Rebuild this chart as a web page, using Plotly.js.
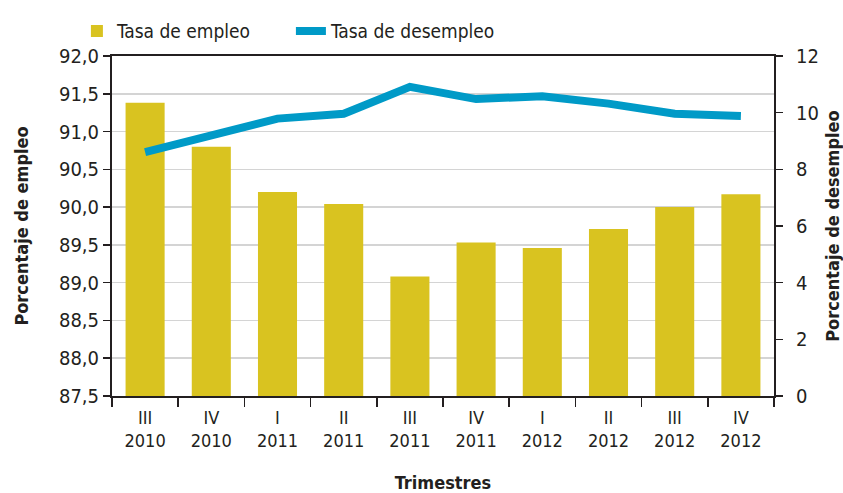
<!DOCTYPE html>
<html>
<head>
<meta charset="utf-8">
<script src="https://cdn.plot.ly/plotly-3.0.1.min.js"></script>
<style>html,body{margin:0;padding:0;background:#fff;}#chart{width:843px;height:493px;}</style>
</head>
<body>
<div id="chart"></div>
<script>
const quarters = ["III", "IV", "I", "II", "III", "IV", "I", "II", "III", "IV"];
const years = ["2010", "2010", "2011", "2011", "2011", "2011", "2012", "2012", "2012", "2012"];
const tasaEmpleo = [91.38, 90.80, 90.20, 90.04, 89.08, 89.53, 89.46, 89.71, 90.00, 90.17];
const tasaDesempleo = [8.61, 9.22, 9.79, 9.96, 10.91, 10.48, 10.58, 10.32, 9.96, 9.88];

const categories = quarters.map((q, i) => q + "<br>" + years[i]);
const FONT = "'DejaVu Sans Condensed', 'Liberation Sans Narrow', 'DejaVu Sans', sans-serif";
const TXT = "#231f20";

const traces = [
  {
    type: "bar",
    name: "Tasa de empleo",
    x: categories,
    y: tasaEmpleo,
    marker: {color: "#d9c320"},
    width: 0.59,
    yaxis: "y"
  },
  {
    type: "scatter",
    mode: "lines",
    name: "Tasa de desempleo",
    x: categories,
    y: tasaDesempleo,
    line: {color: "#009ac7", width: 8},
    yaxis: "y2"
  }
];

const layout = {
  width: 843,
  height: 493,
  margin: {l: 112, r: 69, t: 54, b: 97},
  paper_bgcolor: "#ffffff",
  plot_bgcolor: "#ffffff",
  separators: ", ",
  font: {family: FONT, size: 19, color: TXT},
  showlegend: true,
  legend: {
    orientation: "h",
    x: -0.053, xanchor: "left",
    y: 1.073, yanchor: "middle",
    font: {family: FONT, size: 19, color: TXT},
    entrywidth: 169,
    entrywidthmode: "pixels",
    bgcolor: "rgba(0,0,0,0)",
    traceorder: "normal"
  },
  xaxis: {
    type: "category",
    showline: true, linecolor: TXT, linewidth: 2,
    mirror: true,
    ticks: "outside", tickson: "boundaries", ticklen: 9, tickcolor: TXT, tickwidth: 1.5,
    ticklabelstandoff: 4,
    tickfont: {family: FONT, size: 18, color: TXT},
    showgrid: false,
    title: {text: "<b>Trimestres</b>", font: {family: FONT, size: 18, color: TXT}, standoff: 32},
    automargin: false
  },
  yaxis: {
    range: [87.5, 92.0],
    dtick: 0.5, tick0: 87.5,
    tickformat: ".1f",
    showline: true, linecolor: TXT, linewidth: 2,
    ticks: "outside", ticklen: 7, tickcolor: TXT, tickwidth: 1.5,
    tickfont: {family: FONT, size: 20, color: TXT},
    showgrid: true, gridcolor: "#d4d4d4", gridwidth: 1.5,
    zeroline: false,
    title: {text: "<b>Porcentaje de empleo</b>", font: {family: FONT, size: 18, color: TXT}, standoff: 26},
    automargin: false
  },
  yaxis2: {
    overlaying: "y",
    side: "right",
    range: [0, 12],
    dtick: 2,
    showline: true, linecolor: TXT, linewidth: 2,
    ticks: "outside", ticklen: 7, tickcolor: TXT, tickwidth: 1.5,
    ticklabelstandoff: 9,
    tickfont: {family: FONT, size: 20, color: TXT},
    showgrid: false,
    zeroline: false,
    title: {text: "<b>Porcentaje de desempleo</b>", font: {family: FONT, size: 18, color: TXT}, standoff: 13},
    automargin: false
  }
};

Plotly.newPlot("chart", traces, layout, {displayModeBar: false, staticPlot: true});
</script>
</body>
</html>
